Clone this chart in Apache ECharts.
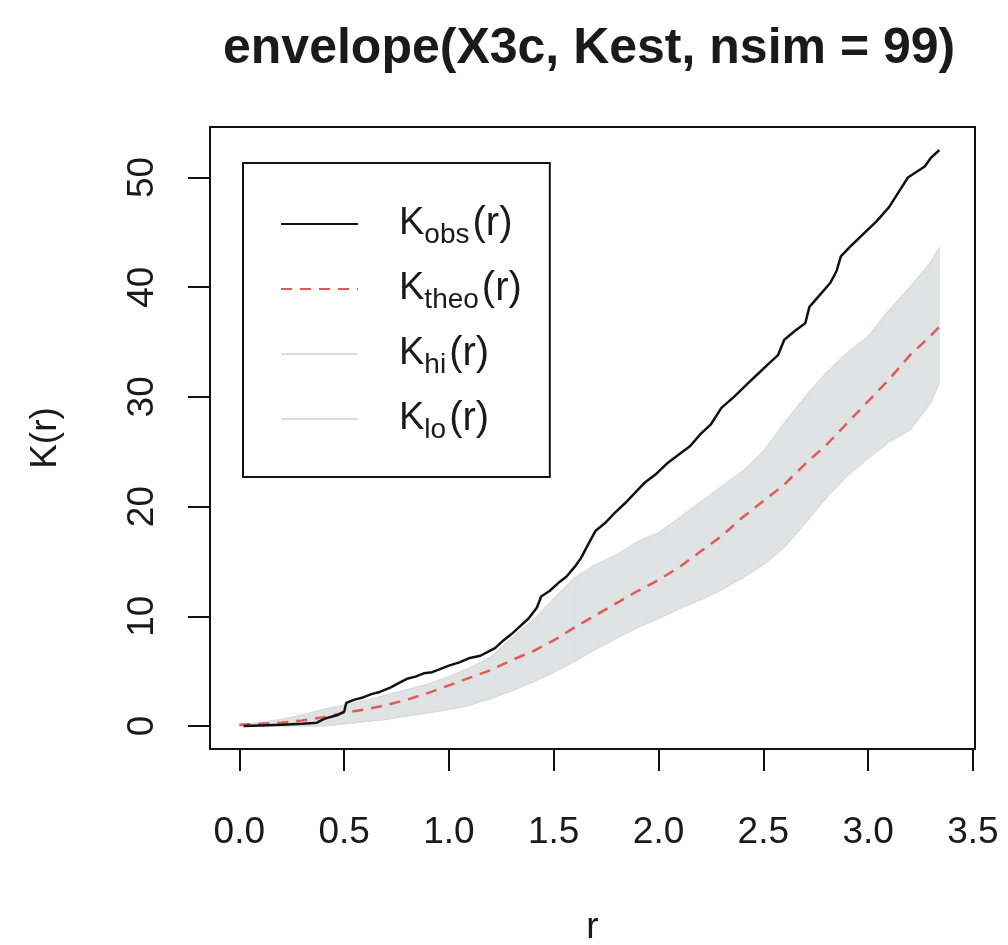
<!DOCTYPE html>
<html>
<head>
<meta charset="utf-8">
<script src="https://cdn.jsdelivr.net/npm/echarts@6/dist/echarts.min.js"></script>
<style>
html,body{margin:0;padding:0;background:#fff;}
#chart{width:1008px;height:945px;}
</style>
</head>
<body>
<div id="chart"></div>
<script>
// ---- data ----
const rGrid = [0,0.1,0.2,0.3,0.4,0.5,0.6,0.7,0.8,0.9,1.0,1.1,1.2,1.3,1.4,1.5,1.6,1.7,1.8,1.9,2.0,2.1,2.2,2.3,2.4,2.5,2.6,2.7,2.8,2.9,3.0,3.1,3.2,3.3,3.34];
const kTheo = [0.1,0.2,0.3,0.5,0.8,1.2,1.5,1.9,2.4,3.0,3.7,4.4,5.1,6.0,6.8,7.8,9.0,10.1,11.2,12.3,13.3,14.5,15.9,17.3,19.0,20.5,22.0,23.9,25.6,27.6,29.6,31.6,33.8,35.6,36.4];
const kHi = [0.1,0.3,0.6,1.0,1.5,1.9,2.3,2.8,3.3,3.8,4.5,5.3,6.3,8.0,9.6,11.6,13.5,14.7,15.6,16.8,17.6,19.0,20.4,21.8,23.2,25.0,27.6,30.0,32.2,34.0,35.5,37.9,40.0,42.3,43.6];
const kLo = [0,0,0,0,0,0.2,0.4,0.6,0.9,1.2,1.5,1.9,2.5,3.2,4.0,4.9,5.9,7.0,8.0,9.0,9.8,10.7,11.5,12.4,13.5,14.7,16.3,18.5,20.8,22.8,24.4,25.9,27.0,29.5,31.3];
const rObs = [0.02,0.1,0.2,0.3,0.37,0.40,0.43,0.47,0.50,0.51,0.55,0.59,0.63,0.67,0.72,0.76,0.80,0.84,0.88,0.92,0.96,1.00,1.05,1.10,1.15,1.19,1.22,1.26,1.30,1.34,1.38,1.42,1.44,1.48,1.52,1.56,1.60,1.63,1.66,1.70,1.745,1.79,1.84,1.90,1.935,1.99,2.045,2.10,2.15,2.20,2.25,2.30,2.36,2.43,2.48,2.53,2.57,2.60,2.65,2.70,2.72,2.77,2.82,2.85,2.87,2.92,2.98,3.04,3.10,3.15,3.19,3.23,3.27,3.30,3.34];
const kObs = [0,0.05,0.1,0.2,0.3,0.6,0.8,1.0,1.3,2.1,2.4,2.6,2.9,3.1,3.5,3.9,4.3,4.5,4.8,4.9,5.2,5.5,5.8,6.2,6.4,6.8,7.1,7.8,8.4,9.1,9.8,10.8,11.8,12.3,13.0,13.6,14.5,15.3,16.4,17.8,18.5,19.4,20.3,21.5,22.2,23.0,24.0,24.8,25.5,26.6,27.5,29.0,30.0,31.3,32.2,33.1,33.8,35.2,36.0,36.7,38.2,39.3,40.4,41.5,42.8,43.8,44.9,46.0,47.3,48.8,50.0,50.5,51.0,51.8,52.5];
const xTicks = [0,0.5,1.0,1.5,2.0,2.5,3.0,3.5];
const yTicks = [0,10,20,30,40,50];
const titleText = 'envelope(X3c, Kest, nsim = 99)';

const subs = {Kobs:'obs', Ktheo:'theo', Khi:'hi', Klo:'lo'};
const pairs = (xs, ys) => xs.map((x, i) => [x, ys[i]]);

const chart = echarts.init(document.getElementById('chart'), null, {renderer:'canvas'});
const FONT = 'Liberation Sans, Arial, Helvetica, sans-serif';
const BAND = '#e0e3e3';
const EDGE = '#dadddd';

chart.setOption({
  backgroundColor:'#fff',
  animation:false,
  textStyle:{fontFamily:FONT},
  title:{
    text:titleText, left:218, top:19,
    textStyle:{fontFamily:FONT, fontWeight:'bold', fontSize:50, color:'#1a1a1a'}
  },
  grid:{left:210, right:33, top:127, bottom:196, show:true, borderColor:'#111', borderWidth:2,
    backgroundColor:'#fff', containLabel:false, outerBoundsMode:'none'},
  xAxis:{
    type:'value', min:-0.14, max:3.51,
    name:'r', nameLocation:'middle', nameGap:160,
    nameTextStyle:{fontSize:37, color:'#1a1a1a', fontFamily:FONT},
    axisLine:{show:false, onZero:false},
    splitLine:{show:false},
    axisTick:{show:true, length:22, inside:false, lineStyle:{color:'#111', width:2}, customValues:xTicks},
    axisLabel:{customValues:xTicks, margin:65, fontSize:37, color:'#1a1a1a', fontFamily:FONT,
      formatter:v => v.toFixed(1)}
  },
  yAxis:{
    type:'value', min:-2.1, max:54.6,
    name:'K(r)', nameLocation:'middle', nameGap:146, nameRotate:90,
    nameTextStyle:{fontSize:37, color:'#1a1a1a', fontFamily:FONT},
    axisLine:{show:false, onZero:false},
    splitLine:{show:false},
    axisTick:{show:true, length:22, lineStyle:{color:'#111', width:2}, customValues:yTicks},
    axisLabel:{customValues:yTicks, rotate:90, margin:49, fontSize:37, color:'#1a1a1a', fontFamily:FONT}
  },
  legend:{
    orient:'vertical', left:243, top:163,
    padding:[41,28,33,37], itemGap:20, itemWidth:77, itemHeight:14,
    borderColor:'#111', borderWidth:2, backgroundColor:'#fff',
    itemStyle:{opacity:0},
    data:['Kobs','Ktheo','Khi','Klo'],
    formatter: n => '{a|K}{b|' + subs[n] + '}{c|(r)}',
    textStyle:{
      padding:[0,0,0,36],
      rich:{
        a:{fontSize:38, lineHeight:50, color:'#1a1a1a', fontFamily:FONT, verticalAlign:'middle'},
        b:{fontSize:28, lineHeight:26, color:'#1a1a1a', fontFamily:FONT, verticalAlign:'bottom'},
        c:{fontSize:40, lineHeight:50, color:'#1a1a1a', fontFamily:FONT, verticalAlign:'middle', padding:[0,0,0,3]}
      }
    }
  },
  series:[
    {type:'custom', name:'envelope', silent:true, z:1,
      data:rGrid.map((r, i) => [r, kLo[i], kHi[i]]),
      encode:{x:0, y:[1,2]},
      renderItem:(params, api) => {
        const i = params.dataIndex;
        if (i >= rGrid.length - 1) return null;
        const pts = [
          api.coord([rGrid[i], kHi[i]]),
          api.coord([rGrid[i+1], kHi[i+1]]),
          api.coord([rGrid[i+1], kLo[i+1]]),
          api.coord([rGrid[i], kLo[i]])
        ];
        return {type:'polygon', shape:{points:pts}, style:{fill:BAND, stroke:BAND, lineWidth:1}};
      }
    },
    {name:'Klo', type:'line', symbol:'none', data:pairs(rGrid, kLo),
      lineStyle:{color:EDGE, width:1.5}, itemStyle:{color:EDGE}, z:2},
    {name:'Khi', type:'line', symbol:'none', data:pairs(rGrid, kHi),
      lineStyle:{color:EDGE, width:1.5}, itemStyle:{color:EDGE}, z:2},
    {name:'Ktheo', type:'line', symbol:'none', data:pairs(rGrid, kTheo),
      lineStyle:{color:'#e05a5a', width:2.5, type:[11,8]}, itemStyle:{color:'#e05a5a'}, z:3},
    {name:'Kobs', type:'line', symbol:'none', data:pairs(rObs, kObs),
      lineStyle:{color:'#111', width:2.5}, itemStyle:{color:'#111'}, z:4}
  ]
});
</script>
</body>
</html>
